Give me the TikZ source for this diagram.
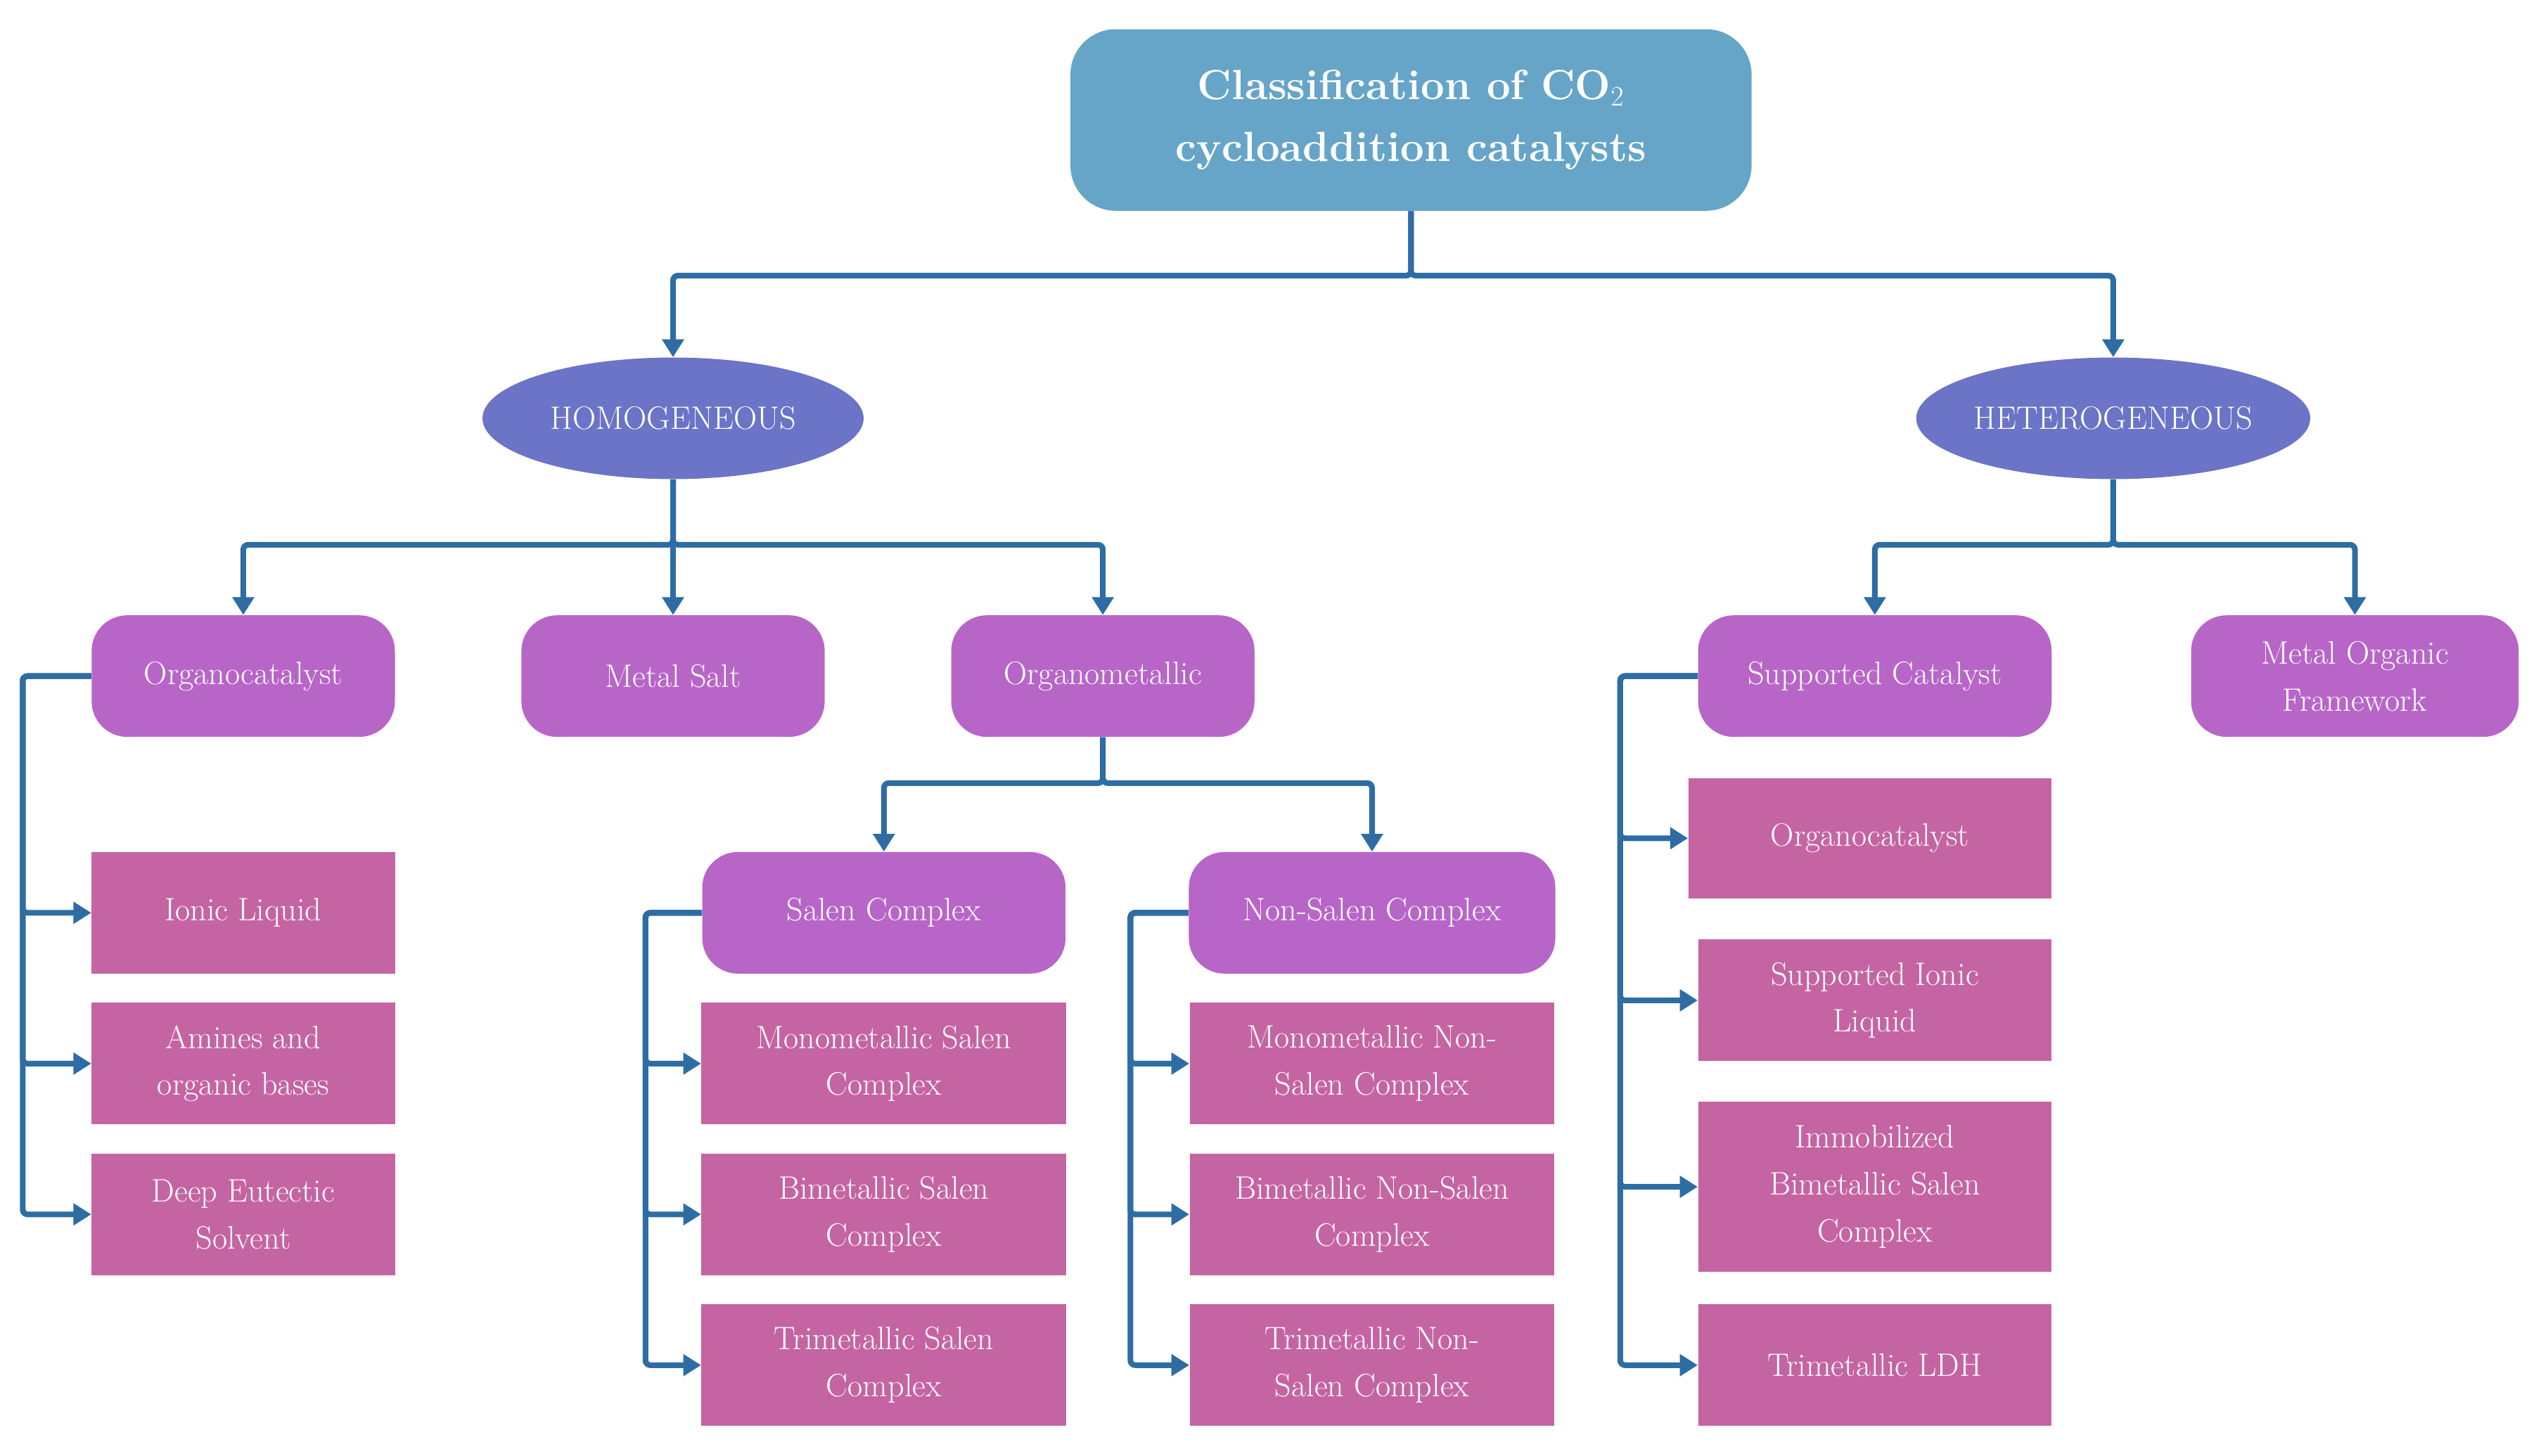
\documentclass[tikz,border=0pt]{standalone}
\usepackage{tikz}
\usetikzlibrary{arrows.meta,shapes.geometric}
\definecolor{cblue}{HTML}{66A5C8}
\definecolor{cell}{HTML}{6B74C6}
\definecolor{cpur}{HTML}{B865C8}
\definecolor{crect}{HTML}{C564A3}
\definecolor{carr}{HTML}{2E6DA4}
\begin{document}
\begin{tikzpicture}[x=1pt,y=-1pt,
  every node/.style={text=white,font=\fontsize{20}{29}\selectfont,align=center,inner sep=0pt},
  rr/.style={fill=cpur,rounded corners=22pt,minimum height=75pt},
  rc/.style={fill=crect,minimum height=75pt},
  el/.style={ellipse,fill=cell,minimum width=235pt,minimum height=75pt},
  arr/.style={draw=carr,line width=3.5pt,rounded corners=3pt,-{Triangle[length=11pt,width=13pt]}}]
\useasboundingbox (0,0) rectangle (1568,898);
\node[fill=cblue,rounded corners=28pt,minimum width=420pt,minimum height=112pt,font=\fontsize{26}{38}\selectfont\bfseries] (t) at (870,74) {Classification of CO$_2$\\cycloaddition catalysts};
\node[el] (ho) at (415,258) {HOMOGENEOUS};
\node[el,minimum width=237pt] (he) at (1303,258) {HETEROGENEOUS};
\node[rr,minimum width=187pt] (oc) at (150,417) {Organocatalyst};
\node[rr,minimum width=187pt] (ms) at (415,417) {Metal Salt};
\node[rr,minimum width=187pt] (om) at (680,417) {Organometallic};
\node[rr,minimum width=218pt] (sc) at (1156,417) {Supported Catalyst};
\node[rr,minimum width=202pt] (mof) at (1452,417) {Metal Organic\\Framework};
\node[rr,minimum width=224pt] (sa) at (545,563) {Salen Complex};
\node[rr,minimum width=226pt] (ns) at (846,563) {Non-Salen Complex};
\node[rc,minimum width=187pt] (il) at (150,563) {Ionic Liquid};
\node[rc,minimum width=187pt] (am) at (150,656) {Amines and\\organic bases};
\node[rc,minimum width=187pt] (de) at (150,749) {Deep Eutectic\\Solvent};
\node[rc,minimum width=225pt] (s1) at (545,656) {Monometallic Salen\\Complex};
\node[rc,minimum width=225pt] (s2) at (545,749) {Bimetallic Salen\\Complex};
\node[rc,minimum width=225pt] (s3) at (545,842) {Trimetallic Salen\\Complex};
\node[rc,minimum width=225pt] (n1) at (846,656) {Monometallic Non-\\Salen Complex};
\node[rc,minimum width=225pt] (n2) at (846,749) {Bimetallic Non-Salen\\Complex};
\node[rc,minimum width=225pt] (n3) at (846,842) {Trimetallic Non-\\Salen Complex};
\node[rc,minimum width=224pt,minimum height=74pt] (h1) at (1153,517) {Organocatalyst};
\node[rc,minimum width=218pt] (h2) at (1156,617) {Supported Ionic\\Liquid};
\node[rc,minimum width=218pt,minimum height=105pt] (h3) at (1156,732) {Immobilized\\Bimetallic Salen\\Complex};
\node[rc,minimum width=218pt] (h4) at (1156,842) {Trimetallic LDH};
\coordinate (tb) at (870,170);
\draw[arr] (t.south) -- (tb) -| (ho.north);
\draw[arr] (t.south) -- (tb) -| (he.north);
\coordinate (hb) at (415,336);
\draw[arr] (ho.south) -- (hb) -| (oc.north);
\draw[arr] (ho.south) -- (ms.north);
\draw[arr] (ho.south) -- (hb) -| (om.north);
\coordinate (eb) at (1303,336);
\draw[arr] (he.south) -- (eb) -| (sc.north);
\draw[arr] (he.south) -- (eb) -| (mof.north);
\coordinate (ob) at (680,483);
\draw[arr] (om.south) -- (ob) -| (sa.north);
\draw[arr] (om.south) -- (ob) -| (ns.north);
\coordinate (c1) at (14,417);
\foreach \n in {il,am,de} \draw[arr] (oc.west) -- (c1) |- (\n.west);
\coordinate (c2) at (398,563);
\foreach \n in {s1,s2,s3} \draw[arr] (sa.west) -- (c2) |- (\n.west);
\coordinate (c3) at (697,563);
\foreach \n in {n1,n2,n3} \draw[arr] (ns.west) -- (c3) |- (\n.west);
\coordinate (c4) at (999,417);
\foreach \n in {h1,h2,h3,h4} \draw[arr] (sc.west) -- (c4) |- (\n.west);
\end{tikzpicture}
\end{document}
